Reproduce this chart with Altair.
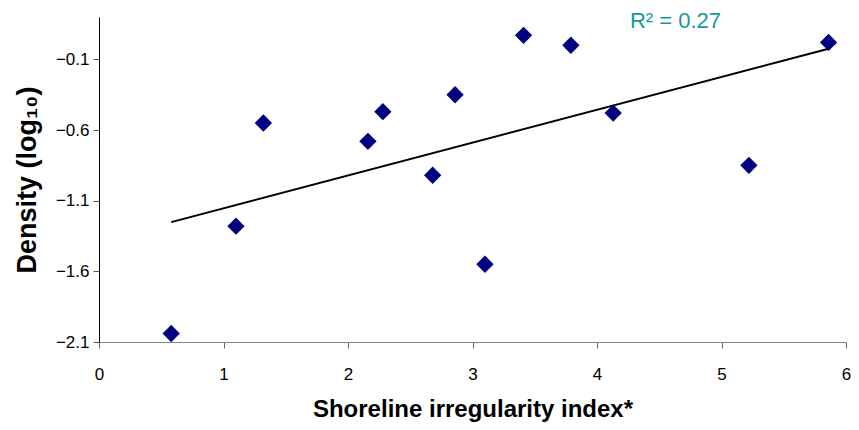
import altair as alt
import pandas as pd

# Data
shoreline_index = [0.58, 1.10, 1.32, 2.16, 2.28, 2.68, 2.86, 3.10, 3.41, 3.79, 4.13, 5.22, 5.86]
density_log10 = [-2.04, -1.28, -0.55, -0.68, -0.47, -0.92, -0.35, -1.55, 0.07, 0.00, -0.48, -0.85, 0.02]

y_ticks = [-2.1, -1.6, -1.1, -0.6, -0.1]
x_ticks = [0, 1, 2, 3, 4, 5, 6]

annot_text = ["R\u00b2 = 0.27"]
annot_x = [4.63]
annot_y = [0.17]

df = pd.DataFrame({"x": shoreline_index, "y": density_log10})
ann = pd.DataFrame({"x": annot_x, "y": annot_y, "t": annot_text})

FONT = "Liberation Sans"

xs = alt.Scale(domain=[0, 6], nice=False, zero=False)
ys = alt.Scale(domain=[-2.1, 0.2], nice=False, zero=False)

x_axis = alt.Axis(
    title="Shoreline irregularity index*",
    values=x_ticks,
    format="d",
    labelFlush=False,
    grid=False,
    domainColor="#868686",
    tickColor="#666666",
    tickSize=6,
    labelFontSize=17,
    labelPadding=18,
    labelColor="black",
    titleFontSize=24,
    titleFontWeight="bold",
    titlePadding=15,
    titleColor="black",
    labelFont=FONT,
    titleFont=FONT,
)
y_axis = alt.Axis(
    title="Density (log\u2081\u2080)",
    values=y_ticks,
    format=".1f",
    labelFlush=False,
    grid=False,
    domainColor="black",
    tickColor="#555555",
    tickSize=6,
    labelFontSize=17,
    labelPadding=4,
    labelColor="black",
    titleFontSize=27,
    titleFontWeight="bold",
    titlePadding=14,
    titleColor="black",
    labelFont=FONT,
    titleFont=FONT,
)

points = alt.Chart(df).mark_point(
    shape="diamond", filled=True, color="#000080", size=300, opacity=1
).encode(
    x=alt.X("x:Q", scale=xs, axis=x_axis),
    y=alt.Y("y:Q", scale=ys, axis=y_axis),
)

trend = alt.Chart(df).transform_regression("x", "y").mark_line(
    color="black", strokeWidth=2
).encode(
    x=alt.X("x:Q", scale=xs),
    y=alt.Y("y:Q", scale=ys),
)

label = alt.Chart(ann).mark_text(
    color="#139A99", fontSize=22, font=FONT, align="center", baseline="middle"
).encode(
    x=alt.X("x:Q", scale=xs),
    y=alt.Y("y:Q", scale=ys),
    text="t:N",
)

chart = alt.layer(trend, points, label).properties(
    width=747,
    height=325,
    autosize=alt.AutoSizeParams(type="none"),
    padding={"left": 91, "top": 9, "right": 5, "bottom": 84},
    background="white",
).configure_view(stroke=None)

chart.save("out.html", embed_options={"renderer": "svg", "actions": False})
